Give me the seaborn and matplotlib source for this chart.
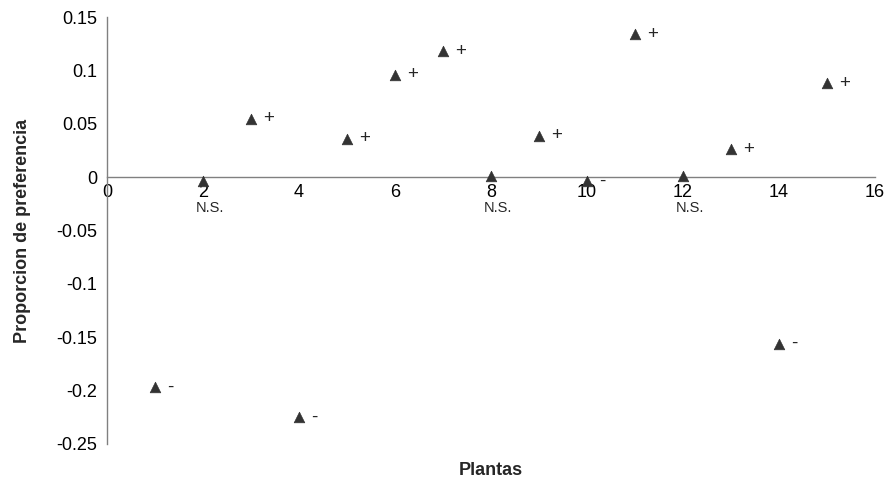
import numpy as np
import pandas as pd
import matplotlib
matplotlib.use("Agg")
import matplotlib.pyplot as plt
import seaborn as sns

plantas = [1, 2, 3, 4, 5, 6, 7, 8, 9, 10, 11, 12, 13, 14, 15]
proporcion = [-0.197, -0.004, 0.055, -0.225, 0.036, 0.096, 0.118, 0.0015,
              0.039, -0.004, 0.134, 0.001, 0.026, -0.156, 0.088]
signo = ["-", "N.S.", "+", "-", "+", "+", "+", "N.S.",
         "+", "-", "+", "N.S.", "+", "-", "+"]

df = pd.DataFrame({"Plantas": plantas, "Proporcion": proporcion, "signo": signo})

sns.set_style("white")
plt.rcParams["font.family"] = ["Liberation Sans", "DejaVu Sans"]

fig, ax = plt.subplots(figsize=(8.92, 4.9), dpi=100)
plt.subplots_adjust(left=0.12, right=0.981, top=0.965, bottom=0.094)

sns.scatterplot(data=df, x="Plantas", y="Proporcion", marker="^", s=58,
                color="#333333", edgecolor="#333333", linewidth=0.5, ax=ax, zorder=3)

# etiquetas de significancia
for x, y, s in zip(df["Plantas"], df["Proporcion"], df["signo"]):
    if s == "N.S.":
        ax.annotate(s, (x, 0), xytext=(5, -22), textcoords="offset points",
                    ha="center", va="center", fontsize=10.5)
    else:
        ax.annotate(s, (x, y), xytext=(9, 0), textcoords="offset points",
                    ha="left", va="center", fontsize=13.5)

ax.set_xlim(0, 16)
ax.set_ylim(-0.25, 0.15)
ax.set_xticks(np.arange(0, 17, 2))
ax.set_yticks([0.15, 0.1, 0.05, 0, -0.05, -0.1, -0.15, -0.2, -0.25])
ax.set_yticklabels(["0.15", "0.1", "0.05", "0", "-0.05", "-0.1", "-0.15", "-0.2", "-0.25"])

ax.spines["top"].set_visible(False)
ax.spines["right"].set_visible(False)
ax.spines["bottom"].set_position(("data", 0))
for sp in ["left", "bottom"]:
    ax.spines[sp].set_color("#808080")
    ax.spines[sp].set_linewidth(1.0)

ax.tick_params(axis="both", direction="out", length=4, width=1, colors="#808080",
               labelcolor="black", labelsize=13)
ax.tick_params(axis="x", pad=1)
ax.tick_params(axis="y", pad=3)

ax.set_xlabel("Plantas", fontsize=13, fontweight="bold")
ax.xaxis.set_label_coords(0.5, -0.042)
ax.xaxis.label.set_va("top")
ax.set_ylabel("Proporcion de preferencia", fontsize=13, fontweight="bold")
ax.yaxis.set_label_coords(-0.099, 0.5)

plt.savefig("out.png", dpi=100)
